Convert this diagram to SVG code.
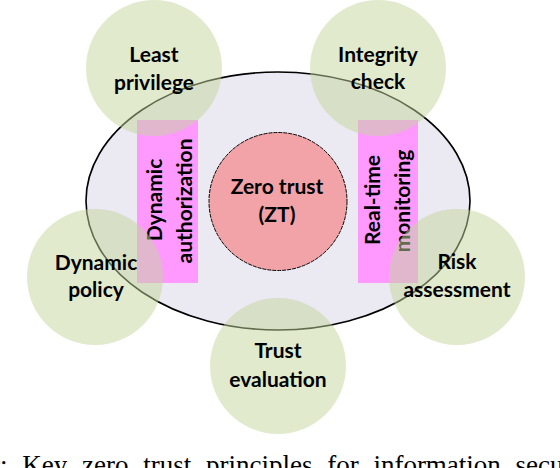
<svg xmlns="http://www.w3.org/2000/svg" width="560" height="468" viewBox="0 0 560 468">
<style>
.lbl{font-family:Lato,"Open Sans","DejaVu Sans",sans-serif;font-weight:700;font-size:21px;fill:#000;text-anchor:middle}
.green{fill:#C3D69B;fill-opacity:0.5;stroke:none}
.pink{fill:#FF99FF;stroke:none}
.cap{font-family:"Liberation Serif","Times New Roman",serif;font-size:27px;fill:#000}
</style>
<rect width="560" height="468" fill="#fff"/>
<g id="boundary">
<ellipse cx="278" cy="201" rx="192" ry="129" fill="#EBE9F1" stroke="#000" stroke-width="1.6"/>
</g>
<g id="dynamic-authorization">
<rect class="pink" x="137" y="120" width="61" height="163"/>
<text class="lbl" transform="translate(162,200) rotate(-90)">Dynamic</text>
<text class="lbl" transform="translate(192,201) rotate(-90)">authorization</text>
</g>
<g id="real-time-monitoring">
<rect class="pink" x="358" y="120" width="60" height="163"/>
<text class="lbl" transform="translate(380,200) rotate(-90)">Real-time</text>
<text class="lbl" transform="translate(410,201) rotate(-90)">monitoring</text>
</g>
<g id="zero-trust">
<circle cx="278" cy="201.5" r="69" fill="#F2A3A8" stroke="#000" stroke-width="1" stroke-dasharray="4 1"/>
<text class="lbl" x="277" y="194">Zero trust</text>
<text class="lbl" x="277" y="222">(ZT)</text>
</g>
<g id="least-privilege">
<circle class="green" cx="154" cy="68" r="68"/>
<text class="lbl" x="154" y="62">Least</text>
<text class="lbl" x="154" y="90">privilege</text>
</g>
<g id="integrity-check">
<circle class="green" cx="378" cy="68" r="68"/>
<text class="lbl" x="378" y="62">Integrity</text>
<text class="lbl" x="378" y="89">check</text>
</g>
<g id="dynamic-policy">
<circle class="green" cx="95" cy="277" r="68"/>
<text class="lbl" x="96" y="270">Dynamic</text>
<text class="lbl" x="96" y="297">policy</text>
</g>
<g id="risk-assessment">
<circle class="green" cx="457" cy="277" r="68"/>
<text class="lbl" x="457" y="269">Risk</text>
<text class="lbl" x="457" y="297">assessment</text>
</g>
<g id="trust-evaluation">
<circle class="green" cx="278" cy="366" r="68"/>
<text class="lbl" x="278" y="358">Trust</text>
<text class="lbl" x="278" y="387">evaluation</text>
</g>
<text class="cap" x="-9" y="474" word-spacing="8">r: Key zero trust principles for information secur</text>
</svg>
